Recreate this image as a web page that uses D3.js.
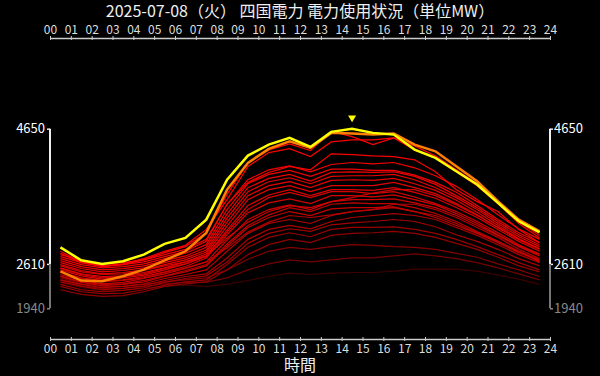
<!DOCTYPE html>
<html>
<head>
<meta charset="utf-8">
<script src="https://cdn.jsdelivr.net/npm/d3@7"></script>
<style>
  body { margin: 0; background: #000; }
  text { font-family: "Noto Sans CJK JP", "Noto Sans", sans-serif; }
</style>
</head>
<body>
<div id="chart"></div>
<script>
const title = "2025-07-08（火） 四国電力 電力使用状況（単位MW）";
const xTitle = "時間";
const hourTicks = [0,1,2,3,4,5,6,7,8,9,10,11,12,13,14,15,16,17,18,19,20,21,22,23,24];
const hourLabels = ["00","01","02","03","04","05","06","07","08","09","10","11","12",
                    "13","14","15","16","17","18","19","20","21","22","23","24"];
// each value is the average of the hour, plotted at its middle
const hours = [0.5,1.5,2.5,3.5,4.5,5.5,6.5,7.5,8.5,9.5,10.5,11.5,
               12.5,13.5,14.5,15.5,16.5,17.5,18.5,19.5,20.5,21.5,22.5,23.5];
const yFloor = 1940;

// today (yellow)
const today = [2860,2664,2610,2650,2750,2912,3002,3278,3882,4244,4410,4511,
               4375,4602,4650,4587,4561,4335,4210,4007,3807,3530,3253,3087];
// highlighted day (orange)
const highlight = [2498,2358,2348,2423,2524,2664,2800,3078,3731,4134,4345,4460,
                   4360,4587,4576,4561,4576,4410,4309,4083,3856,3555,3278,3102];
// other days, oldest/darkest first
const pastDays = [
  [2330,2250,2210,2210,2240,2270,2290,2270,2300,2360,2420,2470,2450,2470,2480,2480,2500,2530,2530,2530,2500,2440,2380,2300],
  [2370,2280,2240,2240,2270,2310,2330,2330,2400,2520,2610,2670,2640,2670,2700,2700,2730,2760,2730,2690,2630,2550,2460,2370],
  [2400,2310,2270,2270,2300,2340,2370,2400,2520,2680,2800,2860,2830,2870,2900,2890,2870,2860,2830,2770,2710,2610,2520,2420],
  [2220,2150,2120,2130,2190,2270,2310,2340,2520,2750,2900,2980,2930,3040,3070,3080,3100,3070,3010,2920,2830,2710,2580,2490],
  [2270,2190,2160,2170,2220,2290,2340,2370,2600,2860,3010,3080,3020,3130,3160,3160,3170,3130,3070,2980,2870,2750,2630,2520],
  [2300,2220,2190,2210,2250,2330,2390,2430,2640,2920,3070,3140,3100,3200,3230,3250,3280,3250,3170,3050,2950,2830,2690,2580],
  [2340,2270,2220,2240,2280,2360,2420,2460,2700,2980,3130,3190,3140,3250,3310,3340,3370,3340,3280,3160,3040,2900,2750,2630],
  [2480,2390,2340,2360,2400,2480,2550,2640,2850,3090,3240,3340,3310,3350,3400,3430,3510,3510,3430,3310,3160,3010,2830,2690],
  [2370,2300,2250,2270,2310,2390,2450,2520,2800,3070,3220,3280,3220,3340,3400,3430,3460,3400,3340,3220,3080,2950,2800,2670],
  [2430,2340,2300,2310,2360,2430,2510,2600,2910,3190,3350,3460,3400,3510,3530,3520,3520,3460,3370,3250,3100,2950,2800,2640],
  [2420,2330,2280,2300,2340,2420,2490,2580,2880,3160,3310,3400,3340,3440,3460,3460,3470,3400,3310,3190,3070,2930,2780,2660],
  [2450,2360,2310,2330,2390,2460,2540,2640,2970,3280,3430,3500,3430,3550,3580,3580,3590,3530,3460,3340,3190,3040,2870,2730],
  [2580,2490,2450,2460,2510,2580,2640,2730,3000,3240,3400,3490,3460,3550,3610,3680,3730,3730,3640,3500,3340,3160,2980,2830],
  [2490,2400,2360,2370,2420,2490,2570,2700,3050,3380,3530,3590,3520,3640,3640,3620,3650,3580,3500,3370,3220,3050,2880,2750],
  [2540,2450,2400,2420,2460,2540,2610,2720,3090,3430,3610,3690,3610,3700,3700,3670,3700,3620,3520,3400,3250,3080,2900,2760],
  [2520,2430,2380,2400,2440,2520,2610,2730,3120,3490,3650,3730,3640,3730,3730,3720,3760,3690,3600,3460,3310,3130,2950,2800],
  [2550,2460,2420,2430,2480,2550,2640,2760,3180,3580,3730,3790,3700,3790,3790,3790,3840,3760,3670,3520,3350,3160,2980,2830],
  [2600,2510,2460,2480,2520,2600,2670,2790,3240,3640,3790,3850,3760,3870,3880,3870,3900,3820,3720,3570,3390,3190,2990,2840],
  [2630,2540,2490,2510,2550,2630,2700,2820,3300,3700,3850,3910,3820,3930,3940,3940,3960,3880,3760,3610,3430,3220,3020,2870],
  [2660,2570,2520,2540,2580,2660,2730,2860,3360,3760,3900,3960,3860,3990,4000,3990,4000,3930,3810,3640,3460,3250,3050,2900],
  [2690,2600,2550,2570,2610,2690,2770,2900,3430,3820,3960,4020,3930,4040,4040,4020,4020,3950,3840,3690,3490,3280,3080,2930],
  [2750,2660,2610,2630,2670,2750,2830,2980,3510,3880,4030,4090,4000,4110,4140,4120,4140,4060,3940,3780,3580,3350,3140,2980],
  [2720,2630,2580,2600,2640,2720,2800,2950,3510,3840,3990,4080,4030,4270,4260,4240,4230,4180,4000,3730,3550,3400,3130,2930],
  [2800,2640,2580,2610,2690,2800,2890,3130,3580,4080,4290,4350,4230,4450,4480,4480,4510,4330,4210,4000,3790,3520,3220,3000],
  [2770,2630,2570,2600,2670,2780,2870,3080,3660,4140,4330,4420,4320,4610,4530,4410,4510,4390,4240,4030,3820,3550,3250,3040]
];

const width = 600, height = 376;

const svg = d3.select("#chart")
  .append("svg")
    .attr("width", width)
    .attr("height", height)
    .style("background", "#000");

const todayMin = d3.min(today), todayMax = d3.max(today);

const x = d3.scaleLinear().domain([0, 24]).range([50, 550]);
const y = d3.scaleLinear().domain([yFloor, todayMax]).range([308.3, 128.7]);

// title
svg.append("text")
  .attr("x", 300).attr("y", 17)
  .attr("text-anchor", "middle")
  .style("font-size", "16px")
  .style("fill", "#eee")
  .text(title);

// top and bottom hour axes
function styleHourAxis(g) {
  g.select(".domain").attr("stroke", "#ccc").attr("stroke-width", 1.5);
  g.selectAll(".tick line").attr("stroke", "#ccc").attr("y1", -2).attr("y2", 2);
  g.selectAll(".tick text").style("fill", "#ddd").style("font-size", "12px")
    .style("font-family", "'Noto Sans CJK JP', sans-serif");
}
svg.append("g")
  .attr("transform", "translate(0,38)")
  .call(d3.axisTop(x).tickValues(hourTicks).tickFormat((d, i) => hourLabels[i])
    .tickSize(2).tickSizeOuter(0).tickPadding(2.5))
  .call(styleHourAxis);
svg.append("g")
  .attr("transform", "translate(0,339)")
  .call(d3.axisBottom(x).tickValues(hourTicks).tickFormat((d, i) => hourLabels[i])
    .tickSize(2).tickSizeOuter(0).tickPadding(3.8))
  .call(styleHourAxis);

svg.append("text")
  .attr("x", 300).attr("y", 371)
  .attr("text-anchor", "middle")
  .style("font-size", "16px")
  .style("fill", "#eee")
  .text(xTitle);

// value axes: white over today's range, grey below it
const yTicks = [yFloor, todayMin, todayMax];
function styleValueAxis(g) {
  g.select(".domain").remove();
  g.selectAll(".tick line").attr("stroke", d => d === yFloor ? "#888" : "#eee").attr("stroke-width", 1.5);
  g.selectAll(".tick text")
    .style("font-size", "13px")
    .style("font-family", "'Noto Sans CJK JP', sans-serif")
    .style("fill", d => d === yFloor ? "#888" : "#fff");
  g.append("line")
    .attr("y1", y(todayMax)).attr("y2", y(todayMin))
    .attr("stroke", "#eee").attr("stroke-width", 2);
  g.append("line")
    .attr("y1", y(todayMin)).attr("y2", y(yFloor))
    .attr("stroke", "#777").attr("stroke-width", 2);
}
svg.append("g")
  .attr("transform", `translate(${x(0)},0)`)
  .call(d3.axisLeft(y).tickValues(yTicks).tickFormat(d3.format("d")).tickSize(3).tickPadding(2))
  .call(styleValueAxis);
svg.append("g")
  .attr("transform", `translate(${x(24)},0)`)
  .call(d3.axisRight(y).tickValues(yTicks).tickFormat(d3.format("d")).tickSize(3).tickPadding(1))
  .call(styleValueAxis);

// lines
const line = d3.line()
  .x((d, i) => x(hours[i]))
  .y(d => y(d));

const shade = t => d3.interpolateRgb("#3c0000", "#ff0000")(Math.pow(t, 0.4));

svg.selectAll(".past")
  .data(pastDays)
  .join("path")
    .attr("class", "past")
    .attr("d", line)
    .style("fill", "none")
    .style("stroke", (d, i) => shade(i / (pastDays.length - 1)))
    .style("stroke-width", 1.2);

svg.append("path")
  .datum(highlight)
  .attr("d", line)
  .style("fill", "none")
  .style("stroke", "#ff8000")
  .style("stroke-width", 2.5);

svg.append("path")
  .datum(today)
  .attr("d", line)
  .style("fill", "none")
  .style("stroke", "#ffff00")
  .style("stroke-width", 2.5);

// peak marker
const peakIdx = d3.maxIndex(today);
svg.append("path")
  .attr("d", d3.symbol(d3.symbolTriangle).size(28))
  .attr("transform", `translate(${x(hours[peakIdx])},${y(today[peakIdx]) - 11}) rotate(180)`)
  .style("fill", "#ffff00");
</script>
</body>
</html>
